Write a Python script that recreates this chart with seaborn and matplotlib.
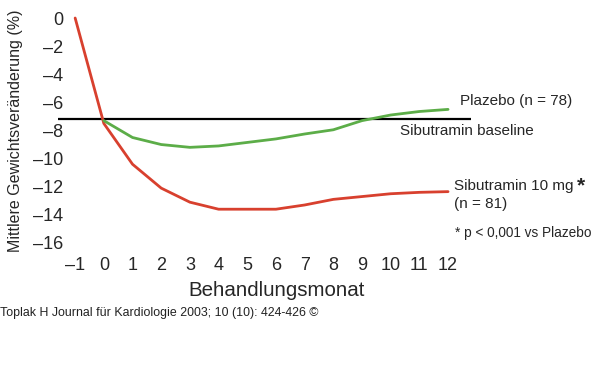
import matplotlib
matplotlib.use("Agg")
import matplotlib.pyplot as plt
import pandas as pd
import seaborn as sns

# data
monate = [-1, 0, 1, 2, 3, 4, 5, 6, 7, 8, 9, 10, 11, 12]
sibutramin = [0, -7.5, -10.4, -12.1, -13.1, -13.6, -13.6, -13.6, -13.3, -12.9, -12.7, -12.5, -12.4, -12.35]
plazebo_monate = [0, 1, 2, 3, 4, 5, 6, 7, 8, 9, 10, 11, 12]
plazebo = [-7.3, -8.5, -9.0, -9.2, -9.1, -8.85, -8.6, -8.25, -7.95, -7.3, -6.9, -6.65, -6.5]
baseline = -7.2
y_ticks = list(range(0, -17, -2))

df = pd.concat([
    pd.DataFrame({"monat": monate, "wert": sibutramin, "gruppe": "Sibutramin"}),
    pd.DataFrame({"monat": plazebo_monate, "wert": plazebo, "gruppe": "Plazebo"}),
])

sns.set_style("white")
plt.rcParams["font.family"] = ["Liberation Sans", "DejaVu Sans"]

fig = plt.figure(figsize=(6, 3.66), dpi=100)
ax = fig.add_axes([0.087, 0.317, 0.698, 0.653])

ax.hlines(baseline, -1.6, 12.8, color="black", lw=1.6, zorder=1)
sns.lineplot(data=df, x="monat", y="wert", hue="gruppe",
             palette={"Sibutramin": "#d8402e", "Plazebo": "#5cad48"},
             lw=2.0, legend=False, ax=ax, zorder=2)

ax.set_xlim(-1.8, 12.8)
ax.set_ylim(-16.5, 0.5)
ax.set_xticks(monate)
ax.set_yticks(y_ticks)
ax.set_yticklabels([str(v).replace("-", "\u2013") for v in y_ticks])
ax.set_xticklabels([str(v).replace("-", "\u2013") for v in monate])
ax.tick_params(axis="y", length=0, pad=-8, labelsize=13)
ax.tick_params(axis="x", length=0, pad=5, labelsize=13)
for s in ax.spines.values():
    s.set_visible(False)

ax.set_xlabel("")
ax.set_ylabel("Mittlere Gewichtsveränderung (%)", fontsize=11.5)
ax.yaxis.set_label_coords(-0.07, 0.5)
fig.text(277 / 600, 1 - 290 / 366, "Behandlungsmonat", fontsize=14.8, ha="center", va="center")

fs = 11
fig.text(460 / 600, 1 - 101 / 366, "Plazebo (n = 78)", fontsize=fs, va="center")
fig.text(400 / 600, 1 - 131 / 366, "Sibutramin baseline", fontsize=fs, va="center")
fig.text(454 / 600, 1 - 186 / 366, "Sibutramin 10 mg", fontsize=fs, va="center")
fig.text(577 / 600, 1 - 186 / 366, "*", fontsize=15, fontweight="bold", va="center")
fig.text(454 / 600, 1 - 204 / 366, "(n = 81)", fontsize=fs, va="center")
fig.text(455 / 600, 1 - 233 / 366, "* p < 0,001 vs Plazebo", fontsize=9.8, va="center")
fig.text(0, 1 - 313 / 366, "Toplak H Journal für Kardiologie 2003; 10 (10): 424-426 ©",
         fontsize=8.9, va="center", color="#222222")

fig.savefig("out.png", dpi=100)
